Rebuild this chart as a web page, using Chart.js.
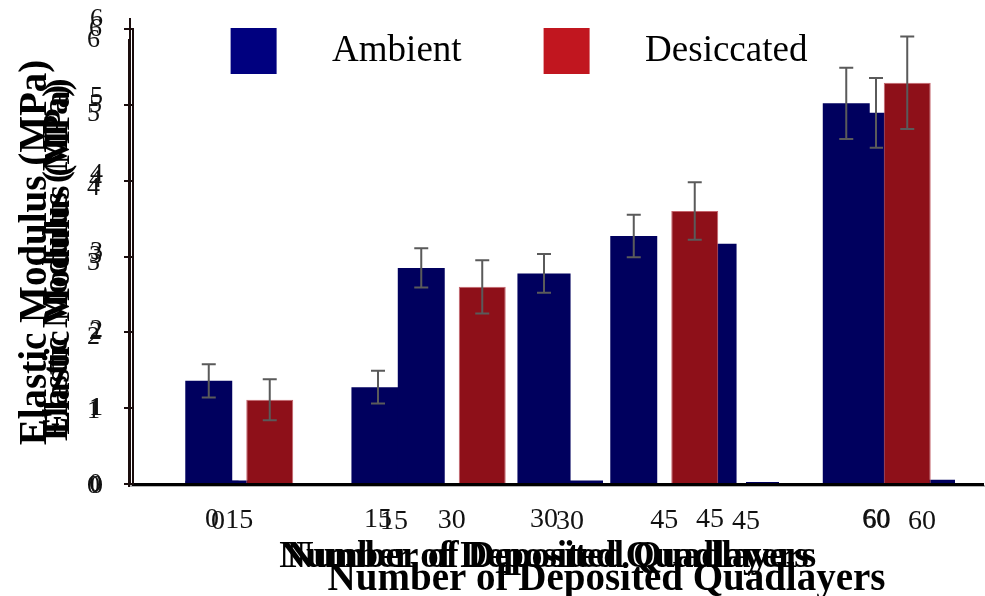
<!DOCTYPE html>
<html>
<head>
<meta charset="utf-8">
<script src="https://cdn.jsdelivr.net/npm/chart.js@4.4.1/dist/chart.umd.min.js"></script>
<style>
  html, body { margin: 0; padding: 0; background: #fff; overflow: hidden; }
  #wrap { position: relative; width: 985px; height: 596px; overflow: hidden; }
  #wrap .layer { position: absolute; left: 0; top: 0; height: 596px; }
</style>
</head>
<body>
<div id="wrap">
  <div class="layer" style="width:1010px"><canvas id="labelChart"></canvas></div>
  <div class="layer" style="width:985px"><canvas id="ghostChart"></canvas></div>
  <div class="layer" style="width:985px"><canvas id="mainChart"></canvas></div>
</div>
<script>
// main layer (front)
const layers = ["15", "30", "45", "60"];
const ambient = [1.36, 2.85, 3.27, 5.02];
const ambientErr = [0.22, 0.26, 0.28, 0.47];
const desiccated = [1.11, 2.60, 3.60, 5.29];
const desiccatedErr = [0.27, 0.35, 0.38, 0.61];

// ghost layer (behind, shifted copy)
const ghostLayers = ["0", "15", "30", "45", "60"];
const ghostAmbient = [0.07, 1.33, 2.86, 3.26, 5.02];
const ghostAmbientErr = [0, 0.22, 0.26, 0.28, 0.47];

// back layer: tiny residual bars
const residual = [0.07, 0.06, 0.07, 0.05, 0.08];
const emptySlot = [null, null, null, null, null];

const seriesNames = ["Ambient", "Desiccated"];
const legendColors = ["#00007f", "#c1161f"];
const axisTitleX = "Number of Deposited Quadlayers";
const axisTitleY = "Elastic Modulus (MPa)";

const navy = "#00005e";
const darkRed = "#8e1019";
const axisDark = "#1a0d0d";

Chart.defaults.font.family = "'Liberation Serif', 'Times New Roman', serif";
Chart.defaults.color = "#111";
Chart.defaults.animation = false;

// error bars drawn through the y scale
const errorBars = {
  id: "errorBars",
  afterDatasetsDraw(chart) {
    const ctx = chart.ctx;
    const y = chart.scales.y;
    chart.data.datasets.forEach((ds, i) => {
      if (!ds.errorBars) return;
      chart.getDatasetMeta(i).data.forEach((bar, j) => {
        const e = ds.errorBars[j];
        if (!e) return;
        const v = ds.data[j];
        const top = y.getPixelForValue(v + e);
        const bot = y.getPixelForValue(v - e);
        ctx.save();
        ctx.strokeStyle = "#5a5a5a";
        ctx.lineWidth = 2;
        ctx.beginPath();
        ctx.moveTo(bar.x, top);
        ctx.lineTo(bar.x, bot);
        ctx.moveTo(bar.x - 7, top);
        ctx.lineTo(bar.x + 7, top);
        ctx.moveTo(bar.x - 7, bot);
        ctx.lineTo(bar.x + 7, bot);
        ctx.stroke();
        ctx.restore();
      });
    });
  },
};

// legend sits inside the plot, so it should take no room
const legendInPlot = {
  id: "legendInPlot",
  beforeInit(chart) {
    const fit = chart.legend.fit;
    chart.legend.fit = function () {
      fit.call(this);
      this.height = 73;
    };
  },
  afterLayout(chart) {
    // let the legend draw below its (shrunk) box without being clipped
    chart.legend.bottom = chart.legend.top + 200;
    chart.legend.height = 200;
  },
};

function yScale(width, tickPad, titleSize, titlePad, tickColor) {
  return {
    min: 0,
    max: 6,
    ticks: { stepSize: 1, font: { size: 26 }, padding: tickPad, color: "#111" },
    grid: { drawOnChartArea: false, tickLength: 9, color: tickColor, lineWidth: 2 },
    border: { color: axisDark, width: 2 },
    title: {
      display: true,
      text: axisTitleY,
      color: "#000",
      font: { size: titleSize, weight: "bold", lineHeight: 1 },
      padding: { top: titlePad, bottom: 0 },
    },
    afterFit(scale) {
      scale.width = width;
      scale.paddingTop = 0;
      scale.paddingBottom = 0;
    },
  };
}

function xScale(height, tickPad, borderColor, borderWidth, title) {
  return {
    grid: { display: false, drawTicks: false },
    border: { color: borderColor, width: borderWidth },
    ticks: { font: { size: 28 }, padding: tickPad, color: "#111", maxRotation: 0 },
    title: Object.assign({ display: true, color: "#000" }, title),
    afterFit(scale) {
      scale.height = height;
      scale.paddingLeft = 0;
      scale.paddingRight = 0;
    },
  };
}

// back layer: third set of labels, titles and the legend
new Chart(document.getElementById("labelChart"), {
  type: "bar",
  data: {
    labels: ghostLayers,
    datasets: [
      { label: "slot", data: emptySlot, backgroundColor: navy },
      { label: "residual", data: residual, backgroundColor: navy },
    ],
  },
  options: {
    responsive: true,
    maintainAspectRatio: false,
    layout: { padding: { top: -54, left: 28, right: 0, bottom: 0 } },
    categoryPercentage: 0.375,
    barPercentage: 1,
    plugins: {
      tooltip: { enabled: false },
      legend: {
        position: "top",
        labels: {
          boxWidth: 46,
          boxHeight: 46,
          padding: 82,
          color: "#1a0f0f",
          font: { size: 37 },
          generateLabels: () => seriesNames.map((name, i) => ({
            text: "\u2003" + name,
            fillStyle: legendColors[i],
            strokeStyle: legendColors[i],
            lineWidth: 0,
            hidden: false,
            datasetIndex: i,
          })),
        },
      },
    },
    scales: {
      x: xScale(110, 19, "#b5b5b5", 2, {
        text: axisTitleX + "\u2003",
        font: { size: 37, weight: "bold", lineHeight: 1 },
        padding: { top: 0, bottom: 20 },
      }),
      y: yScale(102, 18, 39, -11.5, "transparent"),
    },
  },
  plugins: [legendInPlot],
});

// middle layer: shifted ghost copy
new Chart(document.getElementById("ghostChart"), {
  type: "bar",
  data: {
    labels: ghostLayers,
    datasets: [
      { label: seriesNames[0], data: ghostAmbient, errorBars: ghostAmbientErr, backgroundColor: navy },
    ],
  },
  options: {
    responsive: true,
    maintainAspectRatio: false,
    layout: { padding: { top: 40, right: 26, left: 0, bottom: 0 } },
    categoryPercentage: 1,
    barPercentage: 0.32,
    plugins: { legend: { display: false }, tooltip: { enabled: false } },
    scales: {
      x: xScale(110, 17, "#b5b5b5", 2, {
        text: axisTitleX,
        font: { size: 37, weight: "bold", lineHeight: 1 },
        padding: { top: 0, bottom: 20 },
      }),
      y: yScale(129, 20, 36, 40, "transparent"),
    },
  },
  plugins: [errorBars],
});

// front layer: the main grouped bars
new Chart(document.getElementById("mainChart"), {
  type: "bar",
  data: {
    labels: layers,
    datasets: [
      { label: seriesNames[0], data: ambient, errorBars: ambientErr, backgroundColor: navy },
      {
        label: seriesNames[1], data: desiccated, errorBars: desiccatedErr,
        backgroundColor: darkRed, borderColor: "#c4646c", borderWidth: 1,
      },
    ],
  },
  options: {
    responsive: true,
    maintainAspectRatio: false,
    layout: { padding: { top: 29, right: 2, left: 0, bottom: 0 } },
    categoryPercentage: 0.574,
    barPercentage: 0.77,
    plugins: { legend: { display: false }, tooltip: { enabled: false } },
    scales: {
      x: xScale(112, 20, "#000", 3, {
        text: axisTitleX + "\u2003\u2003\u2002",
        align: "end",
        font: { size: 39, weight: "bold", lineHeight: 1 },
        padding: { top: 0, bottom: -3 },
      }),
      y: yScale(133, 22, 36, 42, axisDark),
    },
  },
  plugins: [errorBars],
});
</script>
</body>
</html>
